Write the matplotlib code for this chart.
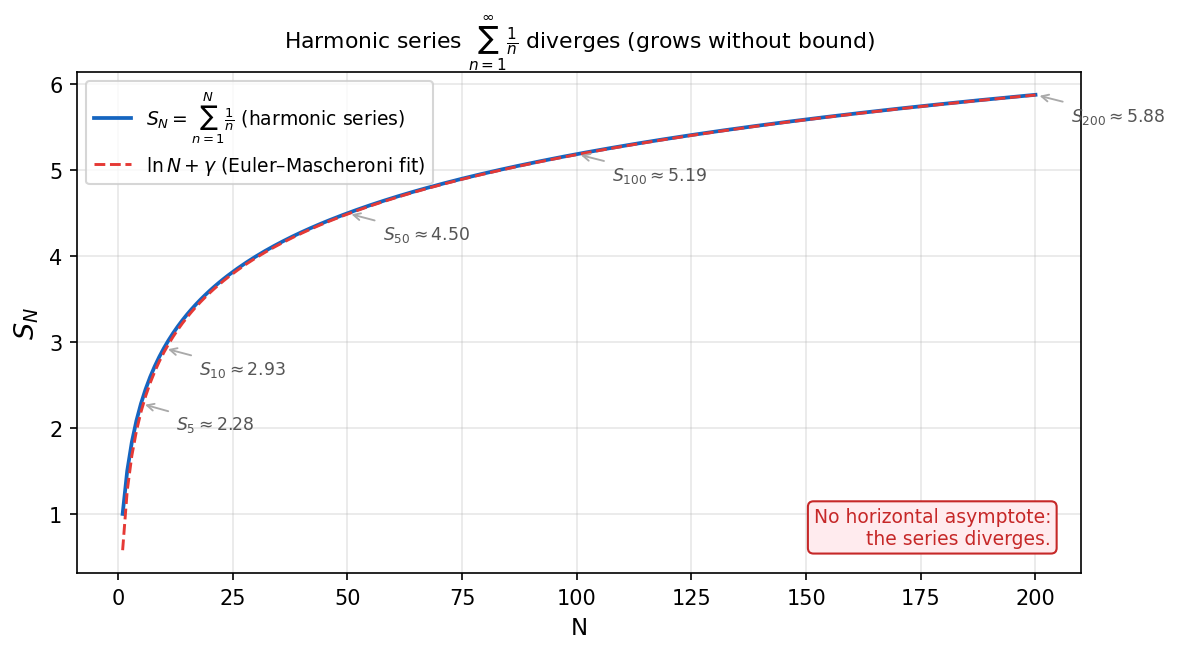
import numpy as np
import matplotlib
matplotlib.use("Agg")
import matplotlib.pyplot as plt

# Data
N_max = 200
N = np.arange(1, N_max + 1)
harmonic = np.cumsum(1.0 / N)           # partial sums S_N
euler_gamma = 0.5772156649
log_fit = np.log(N) + euler_gamma
annotated_N = [5, 10, 50, 100, 200]

fig = plt.figure(figsize=(1179 / 150, 655 / 150), dpi=150)
ax = fig.add_axes([0.0653, 0.1237, 0.8517, 0.7648])

ax.plot(N, harmonic, color="#1565C0", lw=1.8,
        label=r"$S_N = \sum_{n=1}^{N}\frac{1}{n}$ (harmonic series)")
ax.plot(N, log_fit, color="#E53935", lw=1.4, ls="--",
        label=r"$\ln N + \gamma$ (Euler–Mascheroni fit)")

for n in annotated_N:
    s = harmonic[n - 1]
    ax.annotate(rf"$S_{{{n}}} \approx {s:.2f}$", xy=(n, s),
                xytext=(17, -10), textcoords="offset points",
                ha="left", va="center", fontsize=8.3, color="#555555",
                arrowprops=dict(arrowstyle="->", color="#aaaaaa", lw=0.9))

ax.text(0.97, 0.05, "No horizontal asymptote:\nthe series diverges.",
        transform=ax.transAxes, ha="right", va="bottom", fontsize=9,
        color="#C62828",
        bbox=dict(boxstyle="round,pad=0.3", facecolor="#FFEBEE",
                  edgecolor="#C62828", lw=1.0))

ax.set_title(r"Harmonic series $\sum_{n=1}^{\infty}\frac{1}{n}$ diverges (grows without bound)",
             fontsize=10.5, pad=8)
ax.set_xlabel("N", fontsize=11)
ax.set_ylabel(r"$S_N$", fontsize=13)
ax.grid(True, alpha=0.3)
ax.legend(loc="upper left", fontsize=9)

fig.savefig("out.png", dpi=150)
